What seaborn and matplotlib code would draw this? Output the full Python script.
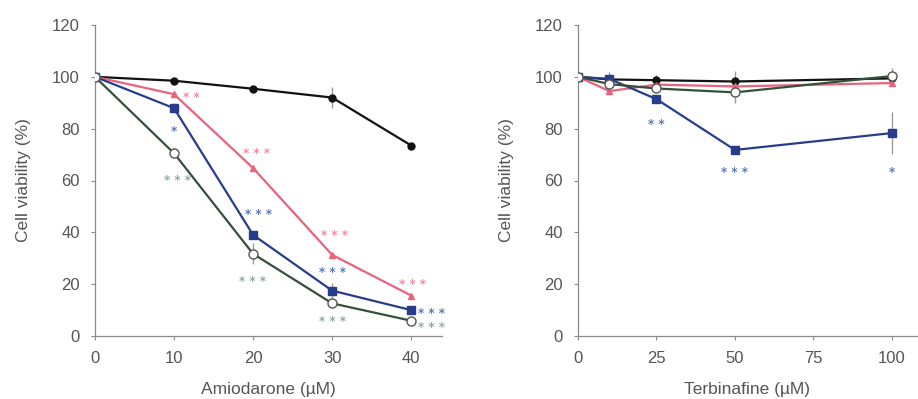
import numpy as np
import pandas as pd
import matplotlib
matplotlib.use("Agg")
import matplotlib.pyplot as plt
import seaborn as sns

# ---------------- data ----------------
amio_conc = [0, 10, 20, 30, 40]
amio_black = [100, 98.5, 95.4, 92.0, 73.5]
amio_pink = [100, 93.3, 64.8, 31.3, 15.6]
amio_blue = [100, 87.9, 39.0, 17.5, 10.0]
amio_open = [100, 70.5, 31.7, 12.6, 5.9]
amio_black_err = [0, 0, 0, 4, 0]
amio_pink_err = [0, 0, 0, 0, 0]
amio_blue_err = [0, 2, 0, 3, 0]
amio_open_err = [0, 0, 4, 0, 0]

terb_conc = [0, 10, 25, 50, 100]
terb_black = [100, 99.0, 98.7, 98.2, 99.4]
terb_pink = [100, 94.5, 97.0, 96.3, 97.6]
terb_blue = [100, 99.2, 91.4, 71.8, 78.3]
terb_open = [100, 97.2, 95.5, 94.0, 100.3]
terb_black_err = [0, 0, 2, 4, 0]
terb_pink_err = [0, 1, 0, 0, 0]
terb_blue_err = [0, 2.5, 0, 1, 8]
terb_open_err = [0, 0, 0, 4, 3]

amio_ticks = [0, 10, 20, 30, 40]
terb_ticks = [0, 25, 50, 75, 100]
y_ticks = [0, 20, 40, 60, 80, 100, 120]

# significance labels: (series, index, text, dx_px, dy_px)
amio_sig = [
    ("pink", 1, "**", 17, 0),
    ("blue", 1, "*", 0, -20),
    ("open", 1, "***", 3, -24),
    ("pink", 2, "***", 3, 18),
    ("blue", 2, "***", 5, 23),
    ("open", 2, "***", -1, -25),
    ("pink", 3, "***", 2, 22),
    ("blue", 3, "***", 0, 21),
    ("open", 3, "***", 0, -15),
    ("pink", 4, "***", 1, 14),
    ("blue", 4, "***", 20, 0),
    ("open", 4, "***", 20, -4),
]
terb_sig = [
    ("blue", 2, "**", 0, -22),
    ("blue", 3, "***", 0, -20),
    ("blue", 4, "*", 0, -36),
]

# ---------------- style ----------------
sns.set_theme(style="white")
plt.rcParams["font.family"] = ["Liberation Sans", "DejaVu Sans"]

colors = {"black": "#111111", "pink": "#e8637d", "blue": "#283c8c", "open": "#34503a"}
star_colors = {"black": "#333333", "pink": "#f08ea2", "blue": "#5a78bd", "open": "#93ab9e"}
markers = {"black": ("o", 5, "#111111"), "pink": ("^", 4, "#e8637d"),
           "blue": ("s", 6, "#283c8c"), "open": ("o", 6.5, "white")}
text_col = "#555555"
spine_col = "#8a8a8a"

fig = plt.figure(figsize=(9.18, 3.99), dpi=100)
ax1 = fig.add_axes([95 / 918, 1 - 336 / 399, (442 - 95) / 918, (336 - 25) / 399])
ax2 = fig.add_axes([578 / 918, 1 - 336 / 399, (917 - 578) / 918, (336 - 25) / 399])


def draw(ax, x, series, errs, sig, xlim, xticks, xlabel):
    order = ["black", "pink", "blue", "open"]
    for name in order:
        y = series[name]
        df = pd.DataFrame({"x": x, "y": y})
        err = errs[name]
        ax.errorbar(x, y, yerr=err, fmt="none", ecolor="#9a9a9a",
                    elinewidth=1, capsize=0, zorder=1)
        m, ms, fc = markers[name]
        sns.lineplot(data=df, x="x", y="y", ax=ax, color=colors[name],
                     linewidth=1.6, marker=m, markersize=ms,
                     markerfacecolor=fc, markeredgecolor=colors[name] if name != "open" else "#555555",
                     markeredgewidth=1.0, zorder=3 if name != "open" else 4)
    for name, i, txt, dx, dy in sig:
        ax.annotate(" ".join(txt), (x[i], series[name][i]), xytext=(dx, dy - 3),
                    textcoords="offset pixels", ha="center", va="center",
                    fontsize=8.5, color=star_colors[name], fontweight="bold",
                    family="DejaVu Sans")
    ax.set_xlim(*xlim)
    ax.set_ylim(0, 120)
    ax.set_xticks(xticks)
    ax.set_yticks(y_ticks)
    ax.set_xlabel(xlabel, fontsize=12.5, color=text_col, labelpad=11)
    ax.set_ylabel("Cell viability (%)", fontsize=12.5, color=text_col, labelpad=15)
    ax.tick_params(axis="both", colors=spine_col, labelcolor=text_col,
                   labelsize=12, length=3, width=0.8, direction="out",
                   left=True, bottom=True, pad=8)
    for s in ["top", "right"]:
        ax.spines[s].set_visible(False)
    for s in ["left", "bottom"]:
        ax.spines[s].set_color(spine_col)
        ax.spines[s].set_linewidth(0.9)
    ax.set_facecolor("white")


draw(ax1, amio_conc,
     {"black": amio_black, "pink": amio_pink, "blue": amio_blue, "open": amio_open},
     {"black": amio_black_err, "pink": amio_pink_err, "blue": amio_blue_err, "open": amio_open_err},
     amio_sig, (0, 43.9), amio_ticks, "Amiodarone (\u00b5M)")
draw(ax2, terb_conc,
     {"black": terb_black, "pink": terb_pink, "blue": terb_blue, "open": terb_open},
     {"black": terb_black_err, "pink": terb_pink_err, "blue": terb_blue_err, "open": terb_open_err},
     terb_sig, (0, 108), terb_ticks, "Terbinafine (\u00b5M)")

fig.savefig("out.png", dpi=100, facecolor="white")
